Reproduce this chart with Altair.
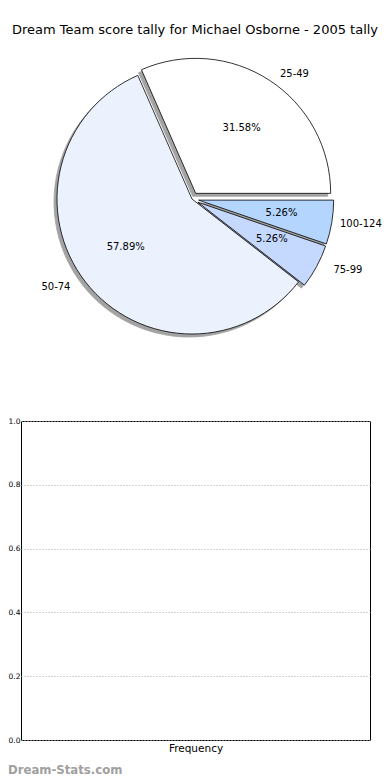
import math
import altair as alt
import pandas as pd

# ---------------- data ----------------
labels = ["25-49", "50-74", "75-99", "100-124"]
counts = [6, 11, 1, 1]
colors = ["#ffffff", "#ebf2fe", "#c5d9fe", "#b3d5fe"]
explode = [0.05, 0.0, 0.05, 0.05]
y_ticks = [0.0, 0.2, 0.4, 0.6, 0.8, 1.0]
title_text = "Dream Team score tally for Michael Osborne - 2005 tally"
x_title = "Frequency"
watermark = "Dream-Stats.com"

# ---------------- layout constants (plot-area pixel coordinates) ----------------
PI = math.pi
OX, OY = 21, 421        # page position of the axes' plot area
W, H = 349, 319
SVG_W = 374             # 390 window - 2*8 margin
CX, CY = 192 - OX, 199 - OY   # pie centre
R = 135                 # arc radius
RX, RY = 140, 130       # text placement radii
LABEL_MAX_X = 340 - OX  # keep outer labels inside the page
FONT = "DejaVu Sans"

df = pd.DataFrame({"label": labels, "count": counts, "explode": explode,
                   "order": list(range(len(labels)))})

base = (
    alt.Chart(df)
    .transform_joinaggregate(total="sum(count)")
    .transform_window(cum="sum(count)", sort=[alt.SortField("order")], frame=[None, 0])
    .transform_calculate(
        fs="(datum.cum - datum.count) / datum.total",
        fe="datum.cum / datum.total",
        mid="2*PI*(datum.cum - datum.count/2) / datum.total",
    )
    .transform_calculate(
        cx=f"{CX} + datum.explode*{R}*cos(datum.mid)",
        cy=f"{CY} - datum.explode*{R}*sin(datum.mid)",
    )
    .transform_calculate(
        sx="datum.cx - 3",
        sy="datum.cy + 3",
        px=f"datum.cx + 0.6*{RX}*cos(datum.mid)",
        py=f"datum.cy - 0.6*{RY}*sin(datum.mid)",
        lx=f"min(datum.cx + 1.1*{RX}*cos(datum.mid), {LABEL_MAX_X})",
        ly=f"datum.cy - 1.1*{RY}*sin(datum.mid)",
        pct="format(100*datum.count/datum.total, '.2f') + '%'",
        right="cos(datum.mid) >= 0",
    )
)

theta_scale = alt.Scale(domain=[0, 1], range=[PI / 2, PI / 2 - 2 * PI], nice=False, zero=False)

shadow = base.mark_arc(radius=R, fill="#4a4a4a", opacity=0.5, stroke="#4a4a4a",
                       strokeWidth=0.8).encode(
    theta=alt.Theta("fs:Q", scale=theta_scale),
    theta2="fe:Q",
    x=alt.X("sx:Q", scale=None),
    y=alt.Y("sy:Q", scale=None),
)

wedges = base.mark_arc(radius=R, stroke="black", strokeWidth=0.8).encode(
    theta=alt.Theta("fs:Q", scale=theta_scale),
    theta2="fe:Q",
    x=alt.X("cx:Q", scale=None),
    y=alt.Y("cy:Q", scale=None),
    color=alt.Color("label:N", scale=alt.Scale(domain=labels, range=colors), legend=None),
)

pct_text = base.mark_text(font=FONT, fontSize=10, color="black", baseline="middle",
                          align="center").encode(
    x=alt.X("px:Q", scale=None), y=alt.Y("py:Q", scale=None), text="pct:N")

lab_right = base.transform_filter("datum.right").mark_text(
    font=FONT, fontSize=10, color="black", baseline="middle", align="left").encode(
    x=alt.X("lx:Q", scale=None), y=alt.Y("ly:Q", scale=None), text="label:N")

lab_left = base.transform_filter("!datum.right").mark_text(
    font=FONT, fontSize=10, color="black", baseline="middle", align="right").encode(
    x=alt.X("lx:Q", scale=None), y=alt.Y("ly:Q", scale=None), text="label:N")

title = alt.Chart(pd.DataFrame({"t": [title_text]})).mark_text(
    font=FONT, fontSize=13, color="black", baseline="middle", align="center").encode(
    x=alt.value(195 - OX), y=alt.value(30 - OY), text="t:N")

# ---------------- empty axes ----------------
axis_df = pd.DataFrame({"y": y_ticks, "x": [0.5] * len(y_ticks)})

frame = alt.Chart(axis_df).mark_point(opacity=0).encode(
    y=alt.Y("y:Q", scale=alt.Scale(domain=[0, 1], nice=False),
            axis=alt.Axis(values=y_ticks, format=".1f", title=None, grid=True,
                          gridDash=[1, 2], gridColor="#aaaaaa", gridWidth=1,
                          ticks=False, domain=False, labelFontSize=7.5,
                          labelFont=FONT, labelColor="black", labelPadding=1)),
    x=alt.X("x:Q", scale=alt.Scale(domain=[0, 1], nice=False),
            axis=alt.Axis(labels=False, ticks=False, grid=False, domain=False,
                          title=x_title, titleFont=FONT, titleFontSize=10.5,
                          titleFontWeight="normal", titleColor="black", titlePadding=3)),
)

wm = alt.Chart(pd.DataFrame({"t": [watermark]})).mark_text(
    font="DejaVu Sans Condensed, DejaVu Sans", fontSize=13, fontWeight="bold",
    color="#a0a0a0", align="left", baseline="middle").encode(
    x=alt.value(8 - OX), y=alt.value(770 - OY), text="t:N")

chart = alt.layer(frame, shadow, wedges, pct_text, lab_right, lab_left, title, wm).resolve_scale(
    x="independent", y="independent"
).properties(
    width=W, height=H,
    autosize=alt.AutoSizeParams(type="none"),
    padding={"left": OX - 8, "top": OY - 8, "right": SVG_W - (OX - 8) - W, "bottom": 780 - OY - H},
    view=alt.ViewBackground(stroke="black", strokeWidth=1),
).configure(font=FONT)

chart.save("out.html", embed_options={"renderer": "svg", "actions": False})
